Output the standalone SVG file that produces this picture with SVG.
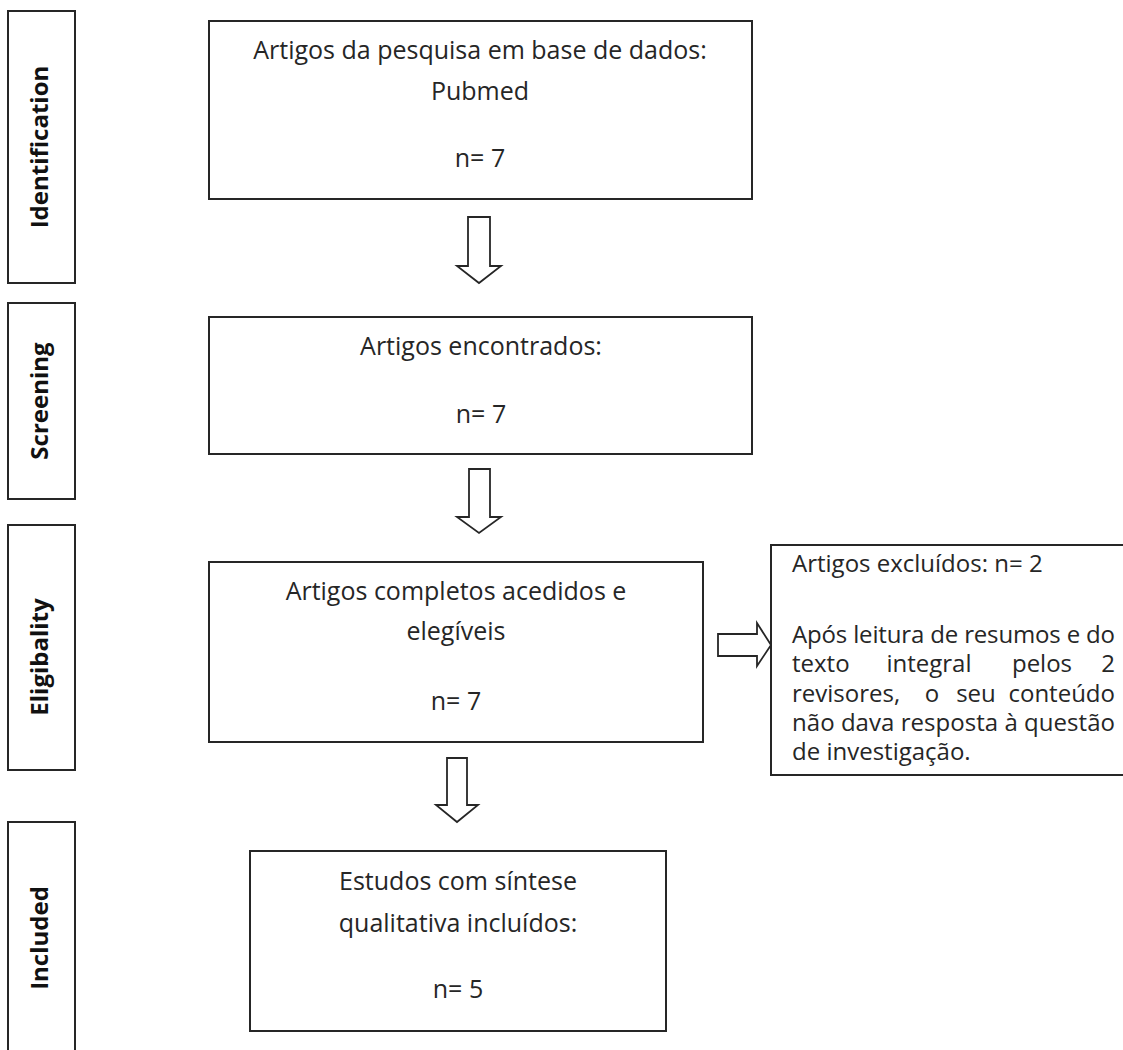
<svg xmlns="http://www.w3.org/2000/svg" width="1123" height="1050" viewBox="0 0 1123 1050">
<style>
.box{fill:#fff;stroke:#262626;stroke-width:2}
.arr{fill:#fff;stroke:#262626;stroke-width:1.8;stroke-linejoin:miter}
.t{font-family:"Open Sans","Liberation Sans",sans-serif;font-size:25px;fill:#262626}
.r{font-size:24px}
.c{text-anchor:middle}
.e{text-anchor:end}
.lab{font-family:"Open Sans","Liberation Sans",sans-serif;font-size:24px;font-weight:bold;fill:#111;text-anchor:middle}
</style>
<rect width="1123" height="1050" fill="#fff"/>
<g id="stage-identification">
<rect class="box" x="8" y="11" width="67" height="272"/>
<text class="lab" transform="translate(48,147) rotate(-90)">Identification</text>
</g>
<g id="stage-screening">
<rect class="box" x="8" y="303" width="67" height="196"/>
<text class="lab" transform="translate(48,401) rotate(-90)">Screening</text>
</g>
<g id="stage-eligibality">
<rect class="box" x="8" y="525" width="67" height="245"/>
<text class="lab" transform="translate(48,657) rotate(-90)">Eligibality</text>
</g>
<g id="stage-included">
<rect class="box" x="8" y="822" width="67" height="240"/>
<text class="lab" transform="translate(48,938) rotate(-90)">Included</text>
</g>
<g id="box-identification">
<rect class="box" x="209" y="21" width="543" height="178"/>
<text class="t c" x="480" y="59">Artigos da pesquisa em base de dados:</text>
<text class="t c" x="480" y="100">Pubmed</text>
<text class="t c" x="480" y="167">n= 7</text>
</g>
<g id="box-screening">
<rect class="box" x="209" y="317" width="543" height="137"/>
<text class="t c" x="481" y="355">Artigos encontrados:</text>
<text class="t c" x="481" y="423">n= 7</text>
</g>
<g id="box-eligibility">
<rect class="box" x="209" y="562" width="494" height="180"/>
<text class="t c" x="456" y="600">Artigos completos acedidos e</text>
<text class="t c" x="456" y="640">elegíveis</text>
<text class="t c" x="456" y="710">n= 7</text>
</g>
<g id="box-excluded">
<rect class="box" x="771" y="545" width="360" height="230"/>
<text class="t r" x="792" y="572">Artigos excluídos: n= 2</text>
<text class="t r" x="792" y="643" textLength="323" lengthAdjust="spacing">Após leitura de resumos e do</text>
<text class="t r" y="672"><tspan x="792">texto</tspan><tspan x="929" class="c">integral</tspan><tspan x="1042" class="c">pelos</tspan><tspan x="1115" class="e">2</tspan></text>
<text class="t r" y="702"><tspan x="792">revisores,</tspan><tspan x="932" class="c">o</tspan><tspan x="976" class="c">seu</tspan><tspan x="1115" class="e">conteúdo</tspan></text>
<text class="t r" x="792" y="731" textLength="323" lengthAdjust="spacing">não dava resposta à questão</text>
<text class="t r" x="792" y="760">de investigação.</text>
</g>
<g id="box-included">
<rect class="box" x="250" y="851" width="416" height="180"/>
<text class="t c" x="458" y="890">Estudos com síntese</text>
<text class="t c" x="458" y="932">qualitativa incluídos:</text>
<text class="t c" x="458" y="998">n= 5</text>
</g>
<g id="connectors">
<path class="arr" d="M468,217 H490 V266 H501 L479,283 L457,266 H468 Z"/>
<path class="arr" d="M469,469 H490 V517 H501 L479,533 L457,517 H469 Z"/>
<path class="arr" d="M447,758 H467 V805 H478 L457,822 L436,805 H447 Z"/>
<path class="arr" d="M718,634 H757 V623 L771,645 L757,666 V656 H718 Z"/>
</g>
</svg>
